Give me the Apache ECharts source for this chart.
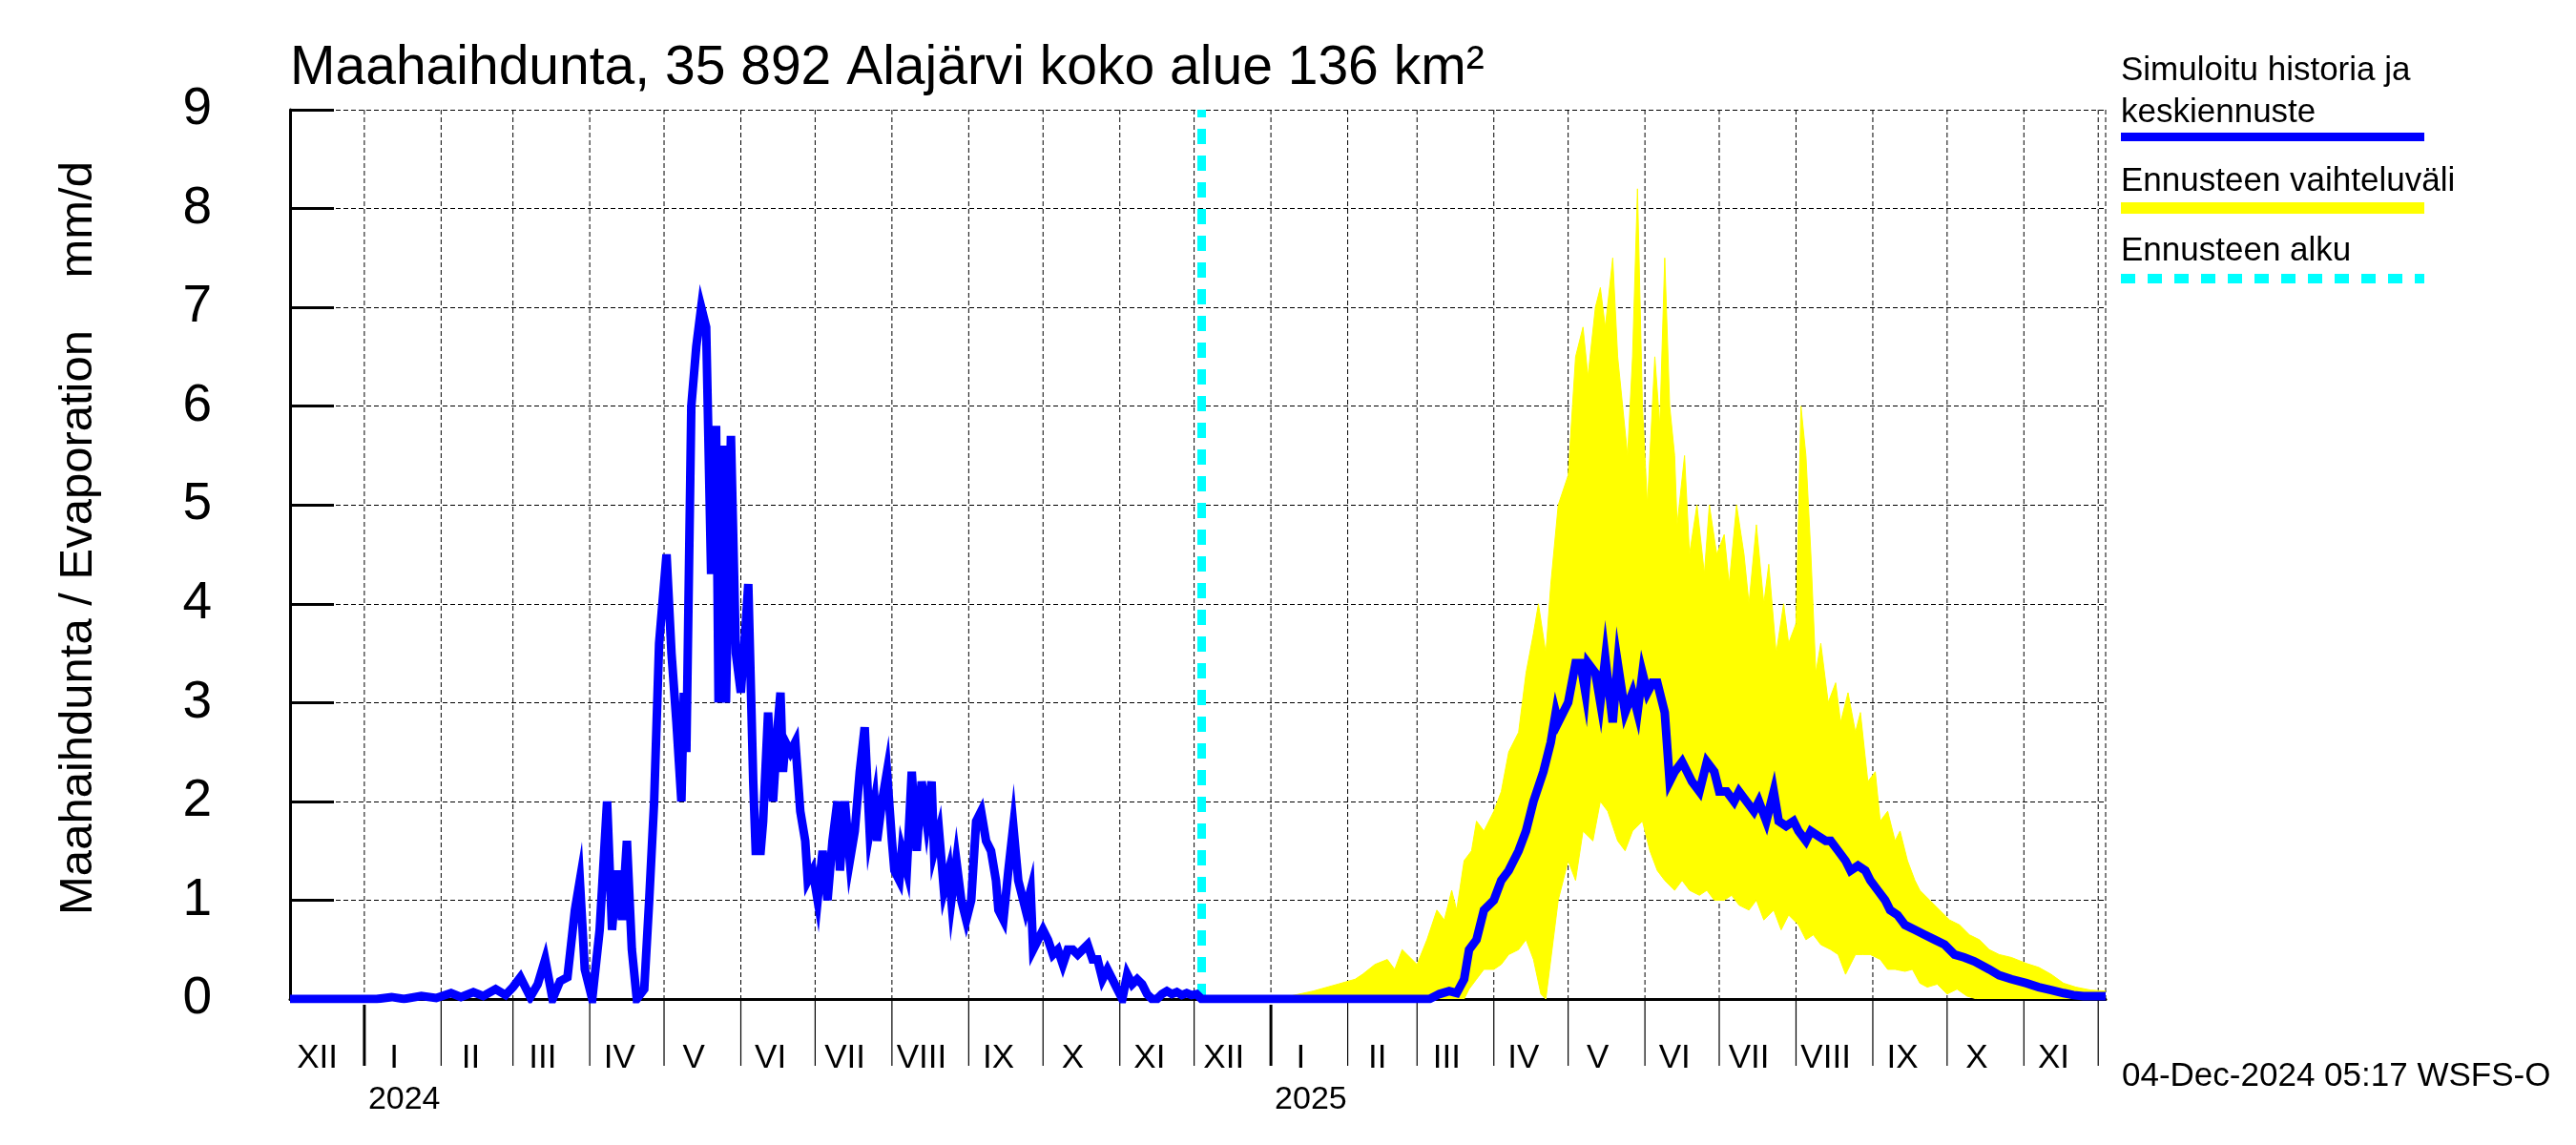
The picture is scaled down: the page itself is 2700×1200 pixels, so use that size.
<!DOCTYPE html>
<html>
<head>
<meta charset="utf-8">
<script src="https://cdn.jsdelivr.net/npm/echarts@6/dist/echarts.min.js"></script>
<style>
html,body{margin:0;padding:0;background:#fff;}
#chart{width:2700px;height:1200px;}
</style>
</head>
<body>
<div id="chart"></div>
<script>
// ---------- DATA ----------
const titleText = 'Maahaihdunta, 35 892 Alajärvi koko alue 136 km²';
const yAxisName = 'Maahaihdunta / Evaporation    mm/d';
const stampText = '04-Dec-2024 05:17 WSFS-O';
const legendTexts = ['Simuloitu historia ja', 'keskiennuste', 'Ennusteen vaihteluväli', 'Ennusteen alku'];
const xMin = '2023-12-02';
const xMax = '2025-12-04';
const forecastStart = '2024-12-04';
const yTicks = [0, 1, 2, 3, 4, 5, 6, 7, 8, 9];

const monthStarts = ['2024-01-01','2024-02-01','2024-03-01','2024-04-01','2024-05-01','2024-06-01','2024-07-01','2024-08-01','2024-09-01','2024-10-01','2024-11-01','2024-12-01',
  '2025-01-01','2025-02-01','2025-03-01','2025-04-01','2025-05-01','2025-06-01','2025-07-01','2025-08-01','2025-09-01','2025-10-01','2025-11-01','2025-12-01'];
const monthLabelDates = ['2023-12-13','2024-01-13','2024-02-13','2024-03-13','2024-04-13','2024-05-13','2024-06-13','2024-07-13','2024-08-13','2024-09-13','2024-10-13','2024-11-13',
  '2024-12-13','2025-01-13','2025-02-13','2025-03-13','2025-04-13','2025-05-13','2025-06-13','2025-07-13','2025-08-13','2025-09-13','2025-10-13','2025-11-13'];
const monthLabels = ['XII','I','II','III','IV','V','VI','VII','VIII','IX','X','XI','XII','I','II','III','IV','V','VI','VII','VIII','IX','X','XI'];
const yearDates = ['2024-01-01','2025-01-01'];
const yearLabels = ['2024','2025'];

// simulated history
const histDates = ['2023-12-02','2023-12-20','2024-01-06','2024-01-12','2024-01-17','2024-01-24','2024-01-30','2024-02-05','2024-02-09','2024-02-14','2024-02-18','2024-02-23','2024-02-27',
  '2024-03-01','2024-03-04','2024-03-08','2024-03-11','2024-03-14','2024-03-17','2024-03-20','2024-03-23','2024-03-26','2024-03-28','2024-03-30',
  '2024-04-02','2024-04-05','2024-04-08','2024-04-10','2024-04-12','2024-04-14','2024-04-16','2024-04-18','2024-04-20','2024-04-23','2024-04-25','2024-04-27','2024-04-29',
  '2024-05-02','2024-05-04','2024-05-06','2024-05-08','2024-05-09','2024-05-10','2024-05-12','2024-05-14','2024-05-16','2024-05-18','2024-05-20','2024-05-22','2024-05-23','2024-05-25','2024-05-26','2024-05-28','2024-05-30',
  '2024-06-01','2024-06-03','2024-06-04','2024-06-06','2024-06-07','2024-06-09','2024-06-10','2024-06-12','2024-06-14','2024-06-16','2024-06-17','2024-06-18','2024-06-19','2024-06-21','2024-06-23','2024-06-25','2024-06-27','2024-06-28','2024-06-30',
  '2024-07-02','2024-07-04','2024-07-06','2024-07-08','2024-07-10','2024-07-11','2024-07-13','2024-07-15','2024-07-17','2024-07-19','2024-07-21','2024-07-23','2024-07-25','2024-07-26','2024-07-28','2024-07-30',
  '2024-08-01','2024-08-02','2024-08-04','2024-08-05','2024-08-07','2024-08-09','2024-08-11','2024-08-13','2024-08-15','2024-08-17','2024-08-18','2024-08-20','2024-08-22','2024-08-24','2024-08-25','2024-08-27','2024-08-29','2024-08-31',
  '2024-09-02','2024-09-04','2024-09-06','2024-09-08','2024-09-10','2024-09-12','2024-09-13','2024-09-15','2024-09-17','2024-09-19','2024-09-21','2024-09-23','2024-09-24','2024-09-26','2024-09-27','2024-09-29',
  '2024-10-01','2024-10-03','2024-10-05','2024-10-07','2024-10-09','2024-10-11','2024-10-13','2024-10-15','2024-10-17','2024-10-19','2024-10-21','2024-10-23','2024-10-25','2024-10-27','2024-10-29','2024-10-31',
  '2024-11-02','2024-11-04','2024-11-06','2024-11-08','2024-11-10','2024-11-12','2024-11-14','2024-11-16','2024-11-18','2024-11-20','2024-11-22','2024-11-24','2024-11-26','2024-11-28','2024-11-30','2024-12-02','2024-12-04'];
const histValues = [0,0,0,0.02,0,0.03,0.01,0.06,0.02,0.07,0.03,0.1,0.04,
  0.12,0.22,0.02,0.15,0.4,0,0.18,0.22,0.9,1.2,0.3,
  0,0.7,2.0,0.7,1.3,0.8,1.6,0.5,0,0.1,1.0,2.0,3.6,
  4.5,3.5,2.8,2.0,3.1,2.5,6.0,6.6,7.0,6.8,4.3,5.8,3.0,5.6,3.0,5.7,3.5,
  3.1,3.8,4.2,2.2,1.5,1.5,1.8,2.9,2.0,2.8,3.1,2.3,2.6,2.5,2.6,1.9,1.6,1.2,1.3,
  1.0,1.5,1.0,1.6,2.0,1.3,2.0,1.4,1.7,2.3,2.75,1.7,2.0,1.6,2.0,2.3,
  1.6,1.3,1.2,1.5,1.3,2.3,1.5,2.2,1.8,2.2,1.5,1.7,1.1,1.3,1.0,1.4,1.0,0.8,
  1.0,1.8,1.9,1.6,1.5,1.2,0.9,0.8,1.3,1.75,1.2,1.0,0.9,1.1,0.5,0.6,
  0.7,0.6,0.45,0.5,0.35,0.5,0.5,0.45,0.5,0.55,0.4,0.4,0.2,0.3,0.2,0.1,
  0,0.25,0.15,0.2,0.15,0.05,0,0,0.05,0.08,0.05,0.07,0.04,0.06,0.04,0.05,0];

// forecast median
const fcDates = ['2025-03-06','2025-03-10','2025-03-14','2025-03-17','2025-03-20','2025-03-22','2025-03-25','2025-03-28',
  '2025-04-01','2025-04-04','2025-04-07','2025-04-11','2025-04-14','2025-04-17','2025-04-21','2025-04-24','2025-04-26','2025-04-27',
  '2025-05-01','2025-05-04','2025-05-06','2025-05-08','2025-05-09','2025-05-12','2025-05-14','2025-05-16','2025-05-19','2025-05-21','2025-05-24','2025-05-27','2025-05-29','2025-05-31',
  '2025-06-02','2025-06-04','2025-06-06','2025-06-09','2025-06-11','2025-06-13','2025-06-16','2025-06-18','2025-06-20','2025-06-23','2025-06-26','2025-06-29',
  '2025-07-01','2025-07-04','2025-07-07','2025-07-09','2025-07-12','2025-07-15','2025-07-17','2025-07-20','2025-07-23','2025-07-25','2025-07-28','2025-07-31',
  '2025-08-02','2025-08-05','2025-08-07','2025-08-10','2025-08-13','2025-08-15','2025-08-18','2025-08-21','2025-08-23','2025-08-26','2025-08-29','2025-08-31',
  '2025-09-03','2025-09-06','2025-09-08','2025-09-11','2025-09-14','2025-09-18','2025-09-22','2025-09-26','2025-09-30',
  '2025-10-04','2025-10-08','2025-10-12','2025-10-18','2025-10-22','2025-10-27','2025-11-02','2025-11-07','2025-11-12','2025-11-17','2025-11-21','2025-11-25','2025-12-04'];
const fcValues = [0,0.05,0.08,0.06,0.2,0.5,0.6,0.9,
  1.0,1.2,1.3,1.5,1.7,2.0,2.3,2.6,2.9,2.8,
  3.0,3.4,3.4,3.1,3.4,3.3,3.0,3.45,2.8,3.4,2.9,3.1,2.9,3.3,
  3.1,3.2,3.2,2.9,2.2,2.3,2.4,2.3,2.2,2.1,2.4,2.3,
  2.1,2.1,2.0,2.1,2.0,1.9,2.0,1.8,2.1,1.8,1.75,1.8,
  1.7,1.6,1.7,1.65,1.6,1.6,1.5,1.4,1.3,1.35,1.3,1.2,
  1.1,1.0,0.9,0.85,0.75,0.7,0.65,0.6,0.55,
  0.45,0.42,0.38,0.3,0.24,0.2,0.16,0.12,0.09,0.06,0.04,0.03,0.03];

// forecast range (upper / lower)
const bandUpperDates = ['2024-12-04','2025-01-07','2025-01-18','2025-01-28','2025-02-04','2025-02-07','2025-02-12','2025-02-17','2025-02-20','2025-02-23',
  '2025-03-01','2025-03-05','2025-03-09','2025-03-12','2025-03-15','2025-03-17','2025-03-20','2025-03-23','2025-03-25','2025-03-28',
  '2025-04-01','2025-04-04','2025-04-07','2025-04-11','2025-04-14','2025-04-17','2025-04-19','2025-04-22','2025-04-24','2025-04-27',
  '2025-05-01','2025-05-04','2025-05-07','2025-05-09','2025-05-12','2025-05-14','2025-05-16','2025-05-19','2025-05-21','2025-05-23','2025-05-25','2025-05-27','2025-05-29','2025-05-31',
  '2025-06-02','2025-06-05','2025-06-07','2025-06-09','2025-06-11','2025-06-13','2025-06-14','2025-06-17','2025-06-19','2025-06-22','2025-06-25','2025-06-27','2025-06-30',
  '2025-07-03','2025-07-05','2025-07-08','2025-07-11','2025-07-13','2025-07-16','2025-07-19','2025-07-21','2025-07-24','2025-07-27','2025-07-29',
  '2025-08-01','2025-08-03','2025-08-05','2025-08-07','2025-08-09','2025-08-11','2025-08-14','2025-08-17','2025-08-19','2025-08-22','2025-08-25','2025-08-27','2025-08-30',
  '2025-09-02','2025-09-04','2025-09-07','2025-09-10','2025-09-12','2025-09-15','2025-09-18','2025-09-20','2025-09-24','2025-09-28',
  '2025-10-02','2025-10-06','2025-10-10','2025-10-14','2025-10-18','2025-10-22','2025-10-27','2025-11-02','2025-11-07','2025-11-12','2025-11-17','2025-11-22','2025-11-28','2025-12-04'];
const bandUpperValues = [0,0.02,0.08,0.15,0.2,0.25,0.35,0.4,0.3,0.5,
  0.35,0.6,0.9,0.8,1.1,0.9,1.4,1.5,1.8,1.7,
  1.9,2.1,2.5,2.7,3.3,3.7,4.0,3.5,4.2,5.0,
  5.3,6.5,6.8,6.3,7.0,7.2,6.8,7.5,6.5,6.0,5.5,6.5,8.2,6.0,
  5.0,6.5,5.8,7.5,6.0,5.5,4.8,5.5,4.5,5.0,4.3,5.0,4.5,
  4.7,4.2,5.0,4.5,4.0,4.8,4.0,4.4,3.5,4.0,3.6,
  3.8,6.0,5.5,4.5,3.3,3.6,3.0,3.2,2.8,3.1,2.7,2.9,2.2,
  2.3,1.8,1.9,1.6,1.7,1.4,1.2,1.1,1.0,0.9,
  0.8,0.75,0.65,0.6,0.5,0.45,0.42,0.36,0.32,0.25,0.16,0.12,0.09,0.08];
const bandLowerDates = ['2024-12-04','2025-03-20','2025-03-22','2025-03-25','2025-03-28','2025-04-01','2025-04-04','2025-04-07','2025-04-11','2025-04-14','2025-04-17','2025-04-20','2025-04-22','2025-04-25','2025-04-27',
  '2025-05-01','2025-05-04','2025-05-07','2025-05-11','2025-05-14','2025-05-17','2025-05-21','2025-05-24','2025-05-27','2025-05-31',
  '2025-06-03','2025-06-06','2025-06-09','2025-06-13','2025-06-16','2025-06-19','2025-06-23','2025-06-26','2025-06-29',
  '2025-07-03','2025-07-06','2025-07-09','2025-07-13','2025-07-16','2025-07-19','2025-07-23','2025-07-26','2025-07-29',
  '2025-08-02','2025-08-05','2025-08-08','2025-08-11','2025-08-15','2025-08-18','2025-08-21','2025-08-25','2025-08-28','2025-08-31',
  '2025-09-04','2025-09-07','2025-09-10','2025-09-14','2025-09-17','2025-09-20','2025-09-23','2025-09-27','2025-10-01','2025-10-05','2025-10-09','2025-10-13','2025-12-04'];
const bandLowerValues = [0,0,0.1,0.2,0.3,0.3,0.35,0.45,0.5,0.6,0.4,0.05,0,0.6,1.0,
  1.4,1.2,1.7,1.6,2.0,1.9,1.6,1.5,1.7,1.8,
  1.5,1.3,1.2,1.1,1.2,1.1,1.05,1.1,1.0,
  1.0,1.05,0.95,0.9,1.0,0.8,0.9,0.7,0.85,
  0.75,0.6,0.65,0.55,0.5,0.45,0.25,0.45,0.45,0.45,
  0.4,0.3,0.3,0.28,0.3,0.16,0.12,0.15,0.05,0.1,0.03,0,0];

// ---------- CHART ----------
const FONT = '"Liberation Sans", Arial, Helvetica, sans-serif';
const ts = s => { const p = s.split('-'); return new Date(+p[0], +p[1] - 1, +p[2]).getTime(); };
const zip = (d, v) => d.map((x, i) => [ts(x), v[i]]);
const lineData = zip(histDates, histValues).concat(zip(fcDates, fcValues));

const chart = echarts.init(document.getElementById('chart'), null, {renderer: 'canvas'});

const option = {
  animation: false,
  backgroundColor: '#ffffff',
  grid: {left: 304, top: 115, width: 1903, height: 932, containLabel: false},
  xAxis: {
    type: 'time', min: ts(xMin), max: ts(xMax),
    axisLine: {show: true, onZero: false, lineStyle: {color: '#000', width: 3}},
    axisTick: {show: false}, axisLabel: {show: false}, splitLine: {show: false}
  },
  yAxis: {
    type: 'value', min: yTicks[0], max: yTicks[yTicks.length - 1], interval: 1,
    axisLine: {show: true, lineStyle: {color: '#000', width: 3}},
    axisTick: {show: true, inside: true, length: 46, lineStyle: {color: '#000', width: 3}},
    axisLabel: {show: true, color: '#000', fontSize: 55, fontFamily: FONT, margin: 82},
    splitLine: {show: true, lineStyle: {color: '#000', width: 1, type: [5, 3]}}
  },
  graphic: [
    {type: 'text', left: 304, top: 44, style: {text: titleText, font: '57px ' + FONT, fill: '#000'}},
    {type: 'text', x: 82, y: 564, rotation: Math.PI / 2, style: {text: yAxisName, font: '49px ' + FONT, fill: '#000', align: 'center', verticalAlign: 'middle'}},
    {type: 'text', x: 2224, y: 1128, style: {text: stampText, font: '35px ' + FONT, fill: '#000', align: 'left', verticalAlign: 'middle'}},
    {type: 'text', x: 2223, y: 74, style: {text: legendTexts[0], font: '35px ' + FONT, fill: '#000', verticalAlign: 'middle'}},
    {type: 'text', x: 2223, y: 118, style: {text: legendTexts[1], font: '35px ' + FONT, fill: '#000', verticalAlign: 'middle'}},
    {type: 'line', shape: {x1: 2223, y1: 143.5, x2: 2541, y2: 143.5}, style: {stroke: '#0000ff', lineWidth: 9}},
    {type: 'text', x: 2223, y: 190, style: {text: legendTexts[2], font: '35px ' + FONT, fill: '#000', verticalAlign: 'middle'}},
    {type: 'line', shape: {x1: 2223, y1: 218, x2: 2541, y2: 218}, style: {stroke: '#ffff00', lineWidth: 12}},
    {type: 'text', x: 2223, y: 263, style: {text: legendTexts[3], font: '35px ' + FONT, fill: '#000', verticalAlign: 'middle'}},
    {type: 'line', shape: {x1: 2223, y1: 292, x2: 2541, y2: 292}, style: {stroke: '#00ffff', lineWidth: 10, lineDash: [15, 13]}}
  ],
  series: [
    { // month grid lines + ticks below axis + right border
      type: 'custom', z: 1, silent: true, clip: false,
      data: monthStarts.map(d => [ts(d), 0]),
      encode: {x: 0, y: 1},
      renderItem: function (params, api) {
        const p = api.coord([api.value(0), 0]);
        const cs = params.coordSys;
        const isYear = new Date(api.value(0)).getMonth() === 0;
        const children = [
          {type: 'line', shape: {x1: p[0], y1: cs.y, x2: p[0], y2: cs.y + cs.height}, style: {stroke: '#000', lineWidth: 1, lineDash: [5, 3]}},
          {type: 'line', shape: {x1: p[0], y1: cs.y + cs.height + (isYear ? 6 : 0), x2: p[0], y2: cs.y + cs.height + 70}, style: {stroke: '#000', lineWidth: isYear ? 3 : 1.2}}
        ];
        if (params.dataIndex === 0) {
          const rx = cs.x + cs.width;
          children.push({type: 'line', shape: {x1: rx, y1: cs.y, x2: rx, y2: cs.y + cs.height}, style: {stroke: '#000', lineWidth: 1, lineDash: [5, 3]}});
        }
        return {type: 'group', children: children};
      }
    },
    { // forecast range band
      type: 'custom', z: 2, silent: true, clip: true,
      data: [[ts(forecastStart), 0]],
      encode: {x: 0, y: 1},
      renderItem: function (params, api) {
        const pts = [];
        for (let i = 0; i < bandUpperDates.length; i++) pts.push(api.coord([ts(bandUpperDates[i]), bandUpperValues[i]]));
        for (let i = bandLowerDates.length - 1; i >= 0; i--) pts.push(api.coord([ts(bandLowerDates[i]), bandLowerValues[i]]));
        return {type: 'polygon', shape: {points: pts}, style: {fill: '#ffff00', stroke: '#ffff00', lineWidth: 1}};
      }
    },
    { // month / year labels
      type: 'custom', z: 3, silent: true, clip: false,
      data: monthLabelDates.map(d => [ts(d), 0]).concat(yearDates.map(d => [ts(d), 0])),
      encode: {x: 0, y: 1},
      renderItem: function (params, api) {
        const p = api.coord([api.value(0), 0]);
        const i = params.dataIndex;
        if (i < monthLabels.length) {
          return {type: 'text', x: p[0], y: p[1] + 62, style: {text: monthLabels[i], font: '35px ' + FONT, fill: '#000', align: 'center', verticalAlign: 'middle'}};
        }
        return {type: 'text', x: p[0] + 4, y: p[1] + 106, style: {text: yearLabels[i - monthLabels.length], font: '34px ' + FONT, fill: '#000', align: 'left', verticalAlign: 'middle'}};
      }
    },
    { // simulated history + median forecast
      type: 'line', z: 5, silent: true,
      data: lineData, showSymbol: false, symbol: 'none',
      lineStyle: {color: '#0000ff', width: 9, join: 'miter'},
      markLine: {
        silent: true, symbol: 'none', label: {show: false},
        lineStyle: {color: '#00ffff', width: 9, type: [16, 12]},
        data: [{xAxis: ts(forecastStart)}]
      }
    }
  ]
};
chart.setOption(option);
</script>
</body>
</html>
